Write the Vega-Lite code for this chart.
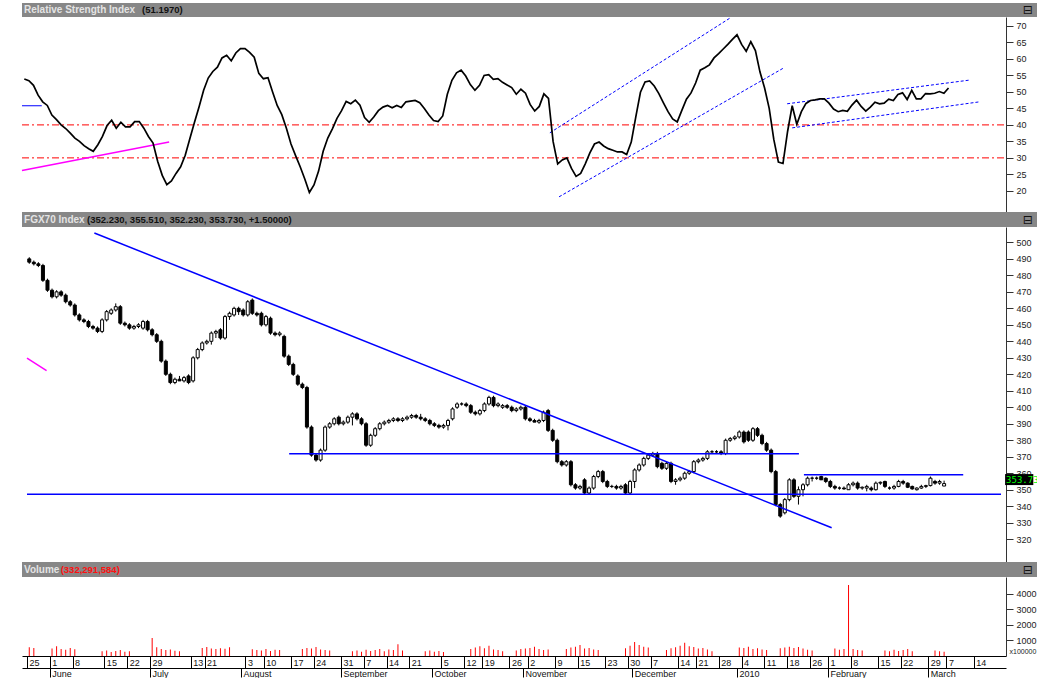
{
"$schema":"https://vega.github.io/schema/vega-lite/v6.json",
"padding":{"left":20,"top":3,"right":0,"bottom":0},
"background":"white",
"spacing":0,
"config":{"view":{"stroke":null},"font":"Liberation Sans","axis":{"grid":false,"title":null}},
"datasets":{
"p":[
{"i":0,"o":490,"h":491,"l":487,"c":488,"v":560,"r":53.9},
{"i":1,"o":488,"h":489,"l":486,"c":487,"v":520,"r":53.4},
{"i":2,"o":487,"h":488,"l":485,"c":486,"v":0,"r":52},
{"i":3,"o":486,"h":487,"l":476,"c":477,"v":0,"r":49},
{"i":4,"o":477,"h":478,"l":470,"c":471,"v":0,"r":47},
{"i":5,"o":471,"h":472,"l":466,"c":467,"v":480,"r":45.9},
{"i":6,"o":467,"h":471,"l":466,"c":470,"v":620,"r":43},
{"i":7,"o":470,"h":471,"l":467,"c":468,"v":450,"r":41.6},
{"i":8,"o":468,"h":469,"l":463,"c":464,"v":400,"r":40},
{"i":9,"o":464,"h":465,"l":461,"c":462,"v":520,"r":38.9},
{"i":10,"o":462,"h":463,"l":455,"c":456,"v":440,"r":37.5},
{"i":11,"o":456,"h":457,"l":452,"c":453,"v":0,"r":36},
{"i":12,"o":453,"h":454,"l":451,"c":452,"v":0,"r":35},
{"i":13,"o":452,"h":453,"l":448,"c":449,"v":0,"r":33.7},
{"i":14,"o":449,"h":450,"l":447,"c":448,"v":0,"r":32.8},
{"i":15,"o":448,"h":449,"l":445,"c":446,"v":0,"r":32},
{"i":16,"o":446,"h":454,"l":445,"c":453,"v":300,"r":34},
{"i":17,"o":453,"h":459,"l":452,"c":458,"v":350,"r":36.5},
{"i":18,"o":457,"h":460,"l":456,"c":459,"v":260,"r":39.8},
{"i":19,"o":459,"h":463,"l":458,"c":461,"v":320,"r":41.4},
{"i":20,"o":461,"h":462,"l":450,"c":451,"v":380,"r":39},
{"i":21,"o":451,"h":452,"l":449,"c":450,"v":280,"r":40.8},
{"i":22,"o":450,"h":451,"l":447,"c":448,"v":300,"r":39.4},
{"i":23,"o":448,"h":450,"l":447,"c":449,"v":0,"r":39.4},
{"i":24,"o":449,"h":451,"l":448,"c":450,"v":0,"r":41},
{"i":25,"o":448,"h":453,"l":447,"c":452,"v":0,"r":41},
{"i":26,"o":452,"h":453,"l":446,"c":447,"v":0,"r":39},
{"i":27,"o":447,"h":448,"l":443,"c":444,"v":1150,"r":36.5},
{"i":28,"o":444,"h":445,"l":439,"c":440,"v":560,"r":34.5},
{"i":29,"o":440,"h":441,"l":427,"c":428,"v":450,"r":29},
{"i":30,"o":428,"h":429,"l":419,"c":420,"v":380,"r":24.7},
{"i":31,"o":420,"h":421,"l":414,"c":415,"v":420,"r":21.9},
{"i":32,"o":415,"h":418,"l":414,"c":417,"v":330,"r":23},
{"i":33,"o":417,"h":419,"l":416,"c":416,"v":300,"r":25.3},
{"i":34,"o":416,"h":419,"l":415,"c":418,"v":0,"r":27.3},
{"i":35,"o":419,"h":420,"l":414,"c":415,"v":0,"r":30.8},
{"i":36,"o":416,"h":431,"l":415,"c":430,"v":0,"r":35.8},
{"i":37,"o":430,"h":436,"l":429,"c":435,"v":0,"r":40.7},
{"i":38,"o":435,"h":440,"l":434,"c":439,"v":520,"r":45.4},
{"i":39,"o":439,"h":441,"l":438,"c":440,"v":580,"r":50.5},
{"i":40,"o":440,"h":446,"l":438,"c":445,"v":480,"r":54.2},
{"i":41,"o":445,"h":447,"l":442,"c":446,"v":450,"r":56.2},
{"i":42,"o":447,"h":448,"l":441,"c":442,"v":500,"r":57.5},
{"i":43,"o":442,"h":456,"l":441,"c":455,"v":460,"r":60.3},
{"i":44,"o":455,"h":458,"l":453,"c":457,"v":560,"r":61.1},
{"i":45,"o":456,"h":461,"l":455,"c":460,"v":0,"r":59.4},
{"i":46,"o":460,"h":461,"l":456,"c":458,"v":0,"r":61.8},
{"i":47,"o":459,"h":460,"l":455,"c":456,"v":0,"r":63.1},
{"i":48,"o":456,"h":465,"l":455,"c":464,"v":0,"r":63.1},
{"i":49,"o":465,"h":466,"l":456,"c":457,"v":430,"r":62},
{"i":50,"o":457,"h":458,"l":455,"c":456,"v":380,"r":60.5},
{"i":51,"o":457,"h":458,"l":449,"c":450,"v":350,"r":55.6},
{"i":52,"o":450,"h":456,"l":449,"c":455,"v":450,"r":54},
{"i":53,"o":454,"h":455,"l":444,"c":445,"v":320,"r":54.3},
{"i":54,"o":445,"h":446,"l":443,"c":444,"v":400,"r":50},
{"i":55,"o":444,"h":446,"l":443,"c":445,"v":380,"r":45.9},
{"i":56,"o":443,"h":444,"l":430,"c":431,"v":0,"r":43.1},
{"i":57,"o":431,"h":432,"l":425,"c":426,"v":0,"r":39},
{"i":58,"o":426,"h":427,"l":419,"c":420,"v":0,"r":34.2},
{"i":59,"o":419,"h":420,"l":413,"c":414,"v":0,"r":30.7},
{"i":60,"o":414,"h":415,"l":411,"c":412,"v":450,"r":27.3},
{"i":61,"o":412,"h":413,"l":387,"c":388,"v":520,"r":23.6},
{"i":62,"o":388,"h":389,"l":370,"c":371,"v":480,"r":19.5},
{"i":63,"o":371,"h":372,"l":367,"c":368,"v":580,"r":21.8},
{"i":64,"o":368,"h":375,"l":367,"c":374,"v":420,"r":26},
{"i":65,"o":374,"h":389,"l":373,"c":388,"v":380,"r":32},
{"i":66,"o":388,"h":391,"l":387,"c":390,"v":350,"r":36},
{"i":67,"o":390,"h":394,"l":389,"c":393,"v":0,"r":38.8},
{"i":68,"o":394,"h":395,"l":389,"c":390,"v":0,"r":42},
{"i":69,"o":390,"h":392,"l":389,"c":391,"v":0,"r":44.3},
{"i":70,"o":391,"h":395,"l":390,"c":394,"v":0,"r":47.1},
{"i":71,"o":394,"h":397,"l":389,"c":396,"v":300,"r":46.4},
{"i":72,"o":396,"h":397,"l":392,"c":393,"v":350,"r":47.5},
{"i":73,"o":393,"h":394,"l":389,"c":390,"v":280,"r":46},
{"i":74,"o":390,"h":391,"l":376,"c":377,"v":400,"r":42.2},
{"i":75,"o":377,"h":384,"l":376,"c":383,"v":320,"r":40.8},
{"i":76,"o":383,"h":388,"l":382,"c":387,"v":380,"r":42.4},
{"i":77,"o":387,"h":391,"l":386,"c":390,"v":450,"r":44.3},
{"i":78,"o":390,"h":392,"l":389,"c":391,"v":300,"r":45.4},
{"i":79,"o":391,"h":393,"l":390,"c":392,"v":420,"r":45.9},
{"i":80,"o":392,"h":394,"l":391,"c":393,"v":380,"r":45.2},
{"i":81,"o":393,"h":394,"l":391,"c":392,"v":750,"r":45.9},
{"i":82,"o":392,"h":394,"l":391,"c":393,"v":350,"r":45.3},
{"i":83,"o":393,"h":395,"l":392,"c":394,"v":0,"r":47},
{"i":84,"o":394,"h":396,"l":393,"c":395,"v":0,"r":47.2},
{"i":85,"o":395,"h":396,"l":393,"c":394,"v":0,"r":47.4},
{"i":86,"o":394,"h":396,"l":392,"c":393,"v":0,"r":46.7},
{"i":87,"o":393,"h":394,"l":391,"c":392,"v":300,"r":45},
{"i":88,"o":392,"h":393,"l":389,"c":390,"v":350,"r":43},
{"i":89,"o":390,"h":391,"l":388,"c":389,"v":280,"r":41.3},
{"i":90,"o":389,"h":390,"l":387,"c":388,"v":320,"r":41},
{"i":91,"o":388,"h":390,"l":387,"c":389,"v":250,"r":42.7},
{"i":92,"o":389,"h":393,"l":386,"c":392,"v":0,"r":49.3},
{"i":93,"o":393,"h":400,"l":392,"c":399,"v":0,"r":53.5},
{"i":94,"o":400,"h":403,"l":399,"c":402,"v":0,"r":55.8},
{"i":95,"o":402,"h":403,"l":401,"c":402,"v":0,"r":56.6},
{"i":96,"o":402,"h":403,"l":400,"c":401,"v":0,"r":54.8},
{"i":97,"o":401,"h":402,"l":396,"c":397,"v":450,"r":52.2},
{"i":98,"o":397,"h":398,"l":395,"c":396,"v":550,"r":50.5},
{"i":99,"o":396,"h":399,"l":395,"c":398,"v":620,"r":52},
{"i":100,"o":398,"h":403,"l":397,"c":402,"v":500,"r":55},
{"i":101,"o":402,"h":407,"l":401,"c":406,"v":650,"r":55.2},
{"i":102,"o":406,"h":407,"l":400,"c":401,"v":420,"r":53.8},
{"i":103,"o":401,"h":403,"l":400,"c":402,"v":380,"r":54},
{"i":104,"o":400,"h":402,"l":399,"c":401,"v":300,"r":52.9},
{"i":105,"o":401,"h":402,"l":399,"c":400,"v":0,"r":52.1},
{"i":106,"o":400,"h":401,"l":397,"c":398,"v":0,"r":51.3},
{"i":107,"o":398,"h":400,"l":397,"c":399,"v":350,"r":49.3},
{"i":108,"o":399,"h":401,"l":398,"c":400,"v":450,"r":50.8},
{"i":109,"o":400,"h":401,"l":392,"c":393,"v":480,"r":49.6},
{"i":110,"o":393,"h":394,"l":391,"c":392,"v":520,"r":46.2},
{"i":111,"o":392,"h":393,"l":391,"c":391,"v":600,"r":44.2},
{"i":112,"o":391,"h":393,"l":390,"c":392,"v":450,"r":45.6},
{"i":113,"o":392,"h":398,"l":391,"c":397,"v":380,"r":49.4},
{"i":114,"o":398,"h":399,"l":385,"c":386,"v":420,"r":48},
{"i":115,"o":386,"h":387,"l":379,"c":380,"v":0,"r":35},
{"i":116,"o":380,"h":381,"l":366,"c":367,"v":0,"r":28.2},
{"i":117,"o":367,"h":368,"l":364,"c":365,"v":0,"r":29.4},
{"i":118,"o":365,"h":368,"l":364,"c":367,"v":450,"r":30},
{"i":119,"o":367,"h":368,"l":352,"c":353,"v":550,"r":26.8},
{"i":120,"o":353,"h":354,"l":350,"c":351,"v":600,"r":24.4},
{"i":121,"o":351,"h":353,"l":350,"c":352,"v":700,"r":25.3},
{"i":122,"o":356,"h":357,"l":347,"c":348,"v":480,"r":28.2},
{"i":123,"o":348,"h":352,"l":347,"c":351,"v":520,"r":31.5},
{"i":124,"o":351,"h":359,"l":350,"c":358,"v":420,"r":34.2},
{"i":125,"o":358,"h":362,"l":357,"c":361,"v":380,"r":34.8},
{"i":126,"o":361,"h":362,"l":354,"c":355,"v":0,"r":33.6},
{"i":127,"o":355,"h":356,"l":351,"c":352,"v":0,"r":32.8},
{"i":128,"o":352,"h":353,"l":351,"c":352,"v":0,"r":32.3},
{"i":129,"o":352,"h":353,"l":350,"c":351,"v":0,"r":31.8},
{"i":130,"o":351,"h":353,"l":350,"c":352,"v":0,"r":31.8},
{"i":131,"o":353,"h":354,"l":347,"c":348,"v":500,"r":31},
{"i":132,"o":348,"h":356,"l":347,"c":355,"v":650,"r":34.8},
{"i":133,"o":355,"h":363,"l":351,"c":362,"v":900,"r":42.5},
{"i":134,"o":362,"h":366,"l":361,"c":365,"v":700,"r":49.9},
{"i":135,"o":365,"h":370,"l":364,"c":369,"v":600,"r":53},
{"i":136,"o":369,"h":372,"l":368,"c":371,"v":550,"r":53.3},
{"i":137,"o":371,"h":373,"l":370,"c":372,"v":0,"r":51.8},
{"i":138,"o":372,"h":373,"l":363,"c":364,"v":0,"r":49.5},
{"i":139,"o":366,"h":367,"l":362,"c":363,"v":0,"r":46.7},
{"i":140,"o":363,"h":367,"l":362,"c":366,"v":380,"r":44},
{"i":141,"o":366,"h":367,"l":354,"c":355,"v":500,"r":41.8},
{"i":142,"o":355,"h":357,"l":353,"c":356,"v":560,"r":40.9},
{"i":143,"o":356,"h":358,"l":355,"c":357,"v":650,"r":44.4},
{"i":144,"o":357,"h":361,"l":356,"c":360,"v":850,"r":47.8},
{"i":145,"o":360,"h":362,"l":359,"c":361,"v":620,"r":49.7},
{"i":146,"o":361,"h":368,"l":360,"c":367,"v":580,"r":52.7},
{"i":147,"o":367,"h":369,"l":366,"c":368,"v":480,"r":56.6},
{"i":148,"o":368,"h":370,"l":367,"c":369,"v":520,"r":57.3},
{"i":149,"o":369,"h":374,"l":368,"c":373,"v":420,"r":58.2},
{"i":150,"o":373,"h":374,"l":372,"c":373,"v":300,"r":60.3},
{"i":151,"o":373,"h":374,"l":372,"c":373,"v":0,"r":61.6},
{"i":152,"o":373,"h":374,"l":371,"c":372,"v":0,"r":63},
{"i":153,"o":372,"h":381,"l":371,"c":380,"v":0,"r":64.4},
{"i":154,"o":380,"h":382,"l":379,"c":381,"v":0,"r":65.9},
{"i":155,"o":381,"h":383,"l":380,"c":382,"v":0,"r":67.3},
{"i":156,"o":382,"h":386,"l":381,"c":385,"v":550,"r":64.4},
{"i":157,"o":385,"h":386,"l":378,"c":379,"v":520,"r":62.3},
{"i":158,"o":385,"h":386,"l":379,"c":380,"v":600,"r":65.2},
{"i":159,"o":380,"h":388,"l":379,"c":387,"v":450,"r":62.5},
{"i":160,"o":387,"h":388,"l":382,"c":383,"v":500,"r":56},
{"i":161,"o":383,"h":384,"l":377,"c":378,"v":420,"r":51.2},
{"i":162,"o":378,"h":379,"l":373,"c":374,"v":380,"r":45},
{"i":163,"o":374,"h":375,"l":360,"c":361,"v":0,"r":35.6},
{"i":164,"o":361,"h":362,"l":340,"c":341,"v":0,"r":28.7},
{"i":165,"o":341,"h":342,"l":333,"c":334,"v":500,"r":28.3},
{"i":166,"o":336,"h":345,"l":335,"c":344,"v":550,"r":38},
{"i":167,"o":344,"h":357,"l":343,"c":356,"v":600,"r":45.8},
{"i":168,"o":356,"h":357,"l":345,"c":346,"v":520,"r":40.2},
{"i":169,"o":346,"h":352,"l":341,"c":350,"v":580,"r":44},
{"i":170,"o":350,"h":354,"l":346,"c":353,"v":480,"r":46.5},
{"i":171,"o":353,"h":358,"l":352,"c":357,"v":400,"r":47.4},
{"i":172,"o":357,"h":358,"l":355,"c":357,"v":350,"r":47.6},
{"i":173,"o":357,"h":358,"l":356,"c":357,"v":0,"r":47.9},
{"i":174,"o":358,"h":358.5,"l":356,"c":356,"v":0,"r":47.9},
{"i":175,"o":357,"h":357.5,"l":354,"c":355,"v":0,"r":46.6},
{"i":176,"o":355,"h":356,"l":351,"c":352,"v":0,"r":44.8},
{"i":177,"o":352,"h":353,"l":350,"c":351,"v":480,"r":44},
{"i":178,"o":351,"h":352,"l":350,"c":351,"v":400,"r":44.4},
{"i":179,"o":351,"h":352,"l":350,"c":350.5,"v":450,"r":44.1},
{"i":180,"o":350,"h":354,"l":350,"c":353,"v":4550,"r":46},
{"i":181,"o":353,"h":355,"l":352,"c":354,"v":450,"r":47.5},
{"i":182,"o":354,"h":355,"l":350,"c":351,"v":380,"r":45.6},
{"i":183,"o":351,"h":352,"l":350,"c":351.5,"v":350,"r":44.2},
{"i":184,"o":351,"h":353,"l":349,"c":352,"v":0,"r":45.4},
{"i":185,"o":351,"h":352,"l":349,"c":350,"v":0,"r":46.9},
{"i":186,"o":350,"h":355,"l":349.5,"c":354,"v":0,"r":46.4},
{"i":187,"o":354,"h":355,"l":353,"c":354.5,"v":0,"r":46.6},
{"i":188,"o":355,"h":355.5,"l":351,"c":352,"v":350,"r":47.8},
{"i":189,"o":351,"h":352,"l":350,"c":351,"v":300,"r":47.4},
{"i":190,"o":351,"h":353,"l":350,"c":352,"v":400,"r":49.2},
{"i":191,"o":352,"h":356,"l":351.5,"c":355,"v":320,"r":49.7},
{"i":192,"o":355,"h":356,"l":353,"c":354,"v":380,"r":47.7},
{"i":193,"o":354,"h":354.5,"l":351,"c":351.5,"v":450,"r":50.5},
{"i":194,"o":352,"h":352.5,"l":350,"c":350.5,"v":300,"r":47.9},
{"i":195,"o":350,"h":351.5,"l":349.5,"c":351,"v":0,"r":47.9},
{"i":196,"o":351,"h":353,"l":350.5,"c":352,"v":0,"r":49.5},
{"i":197,"o":352,"h":353,"l":351,"c":352.5,"v":0,"r":49.4},
{"i":198,"o":352.5,"h":358,"l":352,"c":357,"v":0,"r":49.6},
{"i":199,"o":355,"h":356,"l":353,"c":354,"v":350,"r":50.1},
{"i":200,"o":354,"h":356,"l":353,"c":355,"v":300,"r":49.6},
{"i":201,"o":352.23,"h":355.51,"l":352.23,"c":353.73,"v":280,"r":51.2}
],
"rsiRed":[{"i":-0.5,"i2":213.5,"r":40,"r2":40},{"i":-0.5,"i2":213.5,"r":30,"r2":30}],
"rsiMag":[{"i":-0.5,"i2":31.5,"r":26.2,"r2":34.8}],
"rsiBlue":[{"i":-0.5,"i2":3.8,"r":45.8,"r2":45.8}],
"rsiDash":[{"i":114.3,"i2":153.5,"r":37.6,"r2":72.4},{"i":116.3,"i2":165.2,"r":18.2,"r2":57.3},{"i":165.9,"i2":205.7,"r":46.4,"r2":53.6},{"i":167,"i2":207.8,"r":39.1,"r2":47}],
"pBlue":[{"i":14.3,"i2":176.3,"c":505.7,"c2":326.9},{"i":57.1,"i2":169.1,"c":371.8,"c2":371.8},{"i":-0.5,"i2":213.5,"c":347.2,"c2":347.2},{"i":170.2,"i2":205.2,"c":359.1,"c2":359.1}],
"pMag":[{"i":-0.5,"i2":3.8,"c":429.8,"c2":422.2}],
"cur":[{"i":214.4,"i2":220.6,"c":353.73}],
"hdr":[{"a":0,"b":1}]
},
"vconcat":[
{"width":1017,"height":14,"data":{"name":"hdr"},
 "layer":[
  {"mark":{"type":"rect","color":"#878787"},"encoding":{"x":{"field":"a","type":"quantitative","scale":{"domain":[0,1],"nice":false,"zero":false},"axis":null},"x2":{"field":"b"},"y":{"field":"a","type":"quantitative","scale":{"domain":[0,1],"nice":false,"zero":false},"axis":null},"y2":{"field":"b"}}},
  {"mark":{"type":"text","align":"left","baseline":"middle","fontSize":10,"fontWeight":"bold","color":"#e4e4e4"},"encoding":{"x":{"datum":0.002,"type":"quantitative"},"y":{"datum":0.5,"type":"quantitative"},"text":{"value":"Relative Strength Index"}}},
  {"mark":{"type":"text","align":"left","baseline":"middle","fontSize":9.5,"fontWeight":"bold","color":"#111111"},"encoding":{"x":{"datum":0.118,"type":"quantitative"},"y":{"datum":0.5,"type":"quantitative"},"text":{"value":"(51.1970)"}}},
  {"mark":{"type":"text","align":"center","baseline":"middle","fontSize":12,"font":"DejaVu Sans","color":"#111111"},"encoding":{"x":{"datum":0.989,"type":"quantitative"},"y":{"datum":0.5,"type":"quantitative"},"text":{"value":"⊟"}}}
 ]},
{"width":984,"height":195,
 "layer":[
  {"data":{"name":"rsiRed"},"mark":{"type":"rule","color":"#ff0000","strokeDash":[7,3,2,3],"strokeWidth":1},
   "encoding":{"x":{"field":"i","type":"quantitative","scale":{"domain":[-0.5,213.5],"nice":false,"zero":false},"axis":null},"x2":{"field":"i2"},
    "y":{"field":"r","type":"quantitative","scale":{"domain":[13.6,72.7],"nice":false,"zero":false},"axis":{"orient":"right","values":[20,25,30,35,40,45,50,55,60,65,70],"tickSize":7,"tickColor":"#333","domainColor":"#333","labelColor":"#222","labelFontSize":9,"labelPadding":3,"title":null,"grid":false}},"y2":{"field":"r2"}}},
  {"data":{"name":"rsiMag"},"mark":{"type":"rule","color":"#ff00ff","strokeWidth":1.5},
   "encoding":{"x":{"field":"i","type":"quantitative","scale":{"domain":[-0.5,213.5],"nice":false,"zero":false},"axis":null},"x2":{"field":"i2"},
    "y":{"field":"r","type":"quantitative","scale":{"domain":[13.6,72.7],"nice":false,"zero":false},"axis":{"orient":"right","values":[20,25,30,35,40,45,50,55,60,65,70],"tickSize":7,"tickColor":"#333","domainColor":"#333","labelColor":"#222","labelFontSize":9,"labelPadding":3,"title":null,"grid":false}},"y2":{"field":"r2"}}},
  {"data":{"name":"rsiBlue"},"mark":{"type":"rule","color":"#0000ff","strokeWidth":1},
   "encoding":{"x":{"field":"i","type":"quantitative","scale":{"domain":[-0.5,213.5],"nice":false,"zero":false},"axis":null},"x2":{"field":"i2"},
    "y":{"field":"r","type":"quantitative","scale":{"domain":[13.6,72.7],"nice":false,"zero":false},"axis":{"orient":"right","values":[20,25,30,35,40,45,50,55,60,65,70],"tickSize":7,"tickColor":"#333","domainColor":"#333","labelColor":"#222","labelFontSize":9,"labelPadding":3,"title":null,"grid":false}},"y2":{"field":"r2"}}},
  {"data":{"name":"rsiDash"},"mark":{"type":"rule","color":"#0000ff","strokeDash":[3,2],"strokeWidth":1},
   "encoding":{"x":{"field":"i","type":"quantitative","scale":{"domain":[-0.5,213.5],"nice":false,"zero":false},"axis":null},"x2":{"field":"i2"},
    "y":{"field":"r","type":"quantitative","scale":{"domain":[13.6,72.7],"nice":false,"zero":false},"axis":{"orient":"right","values":[20,25,30,35,40,45,50,55,60,65,70],"tickSize":7,"tickColor":"#333","domainColor":"#333","labelColor":"#222","labelFontSize":9,"labelPadding":3,"title":null,"grid":false}},"y2":{"field":"r2"}}},
  {"data":{"name":"p"},"mark":{"type":"line","color":"#000000","strokeWidth":1.7},
   "encoding":{"x":{"field":"i","type":"quantitative","scale":{"domain":[-0.5,213.5],"nice":false,"zero":false},"axis":null},
    "y":{"field":"r","type":"quantitative","scale":{"domain":[13.6,72.7],"nice":false,"zero":false},"axis":{"orient":"right","values":[20,25,30,35,40,45,50,55,60,65,70],"tickSize":7,"tickColor":"#333","domainColor":"#333","labelColor":"#222","labelFontSize":9,"labelPadding":3,"title":null,"grid":false}}}}
 ]},
{"width":1017,"height":15,"data":{"name":"hdr"},
 "layer":[
  {"mark":{"type":"rect","color":"#878787"},"encoding":{"x":{"field":"a","type":"quantitative","scale":{"domain":[0,1],"nice":false,"zero":false},"axis":null},"x2":{"field":"b"},"y":{"field":"a","type":"quantitative","scale":{"domain":[0,1],"nice":false,"zero":false},"axis":null},"y2":{"field":"b"}}},
  {"mark":{"type":"text","align":"left","baseline":"middle","fontSize":10,"fontWeight":"bold","color":"#e4e4e4"},"encoding":{"x":{"datum":0.002,"type":"quantitative"},"y":{"datum":0.5,"type":"quantitative"},"text":{"value":"FGX70 Index"}}},
  {"mark":{"type":"text","align":"left","baseline":"middle","fontSize":9.5,"fontWeight":"bold","color":"#111111"},"encoding":{"x":{"datum":0.064,"type":"quantitative"},"y":{"datum":0.5,"type":"quantitative"},"text":{"value":"(352.230, 355.510, 352.230, 353.730, +1.50000)"}}},
  {"mark":{"type":"text","align":"center","baseline":"middle","fontSize":12,"font":"DejaVu Sans","color":"#111111"},"encoding":{"x":{"datum":0.989,"type":"quantitative"},"y":{"datum":0.5,"type":"quantitative"},"text":{"value":"⊟"}}}
 ]},
{"width":984,"height":335,
 "layer":[
  {"data":{"name":"pMag"},"mark":{"type":"rule","color":"#ff00ff","strokeWidth":1.5},
   "encoding":{"x":{"field":"i","type":"quantitative","scale":{"domain":[-0.5,213.5],"nice":false,"zero":false},"axis":null},"x2":{"field":"i2"},
    "y":{"field":"c","type":"quantitative","scale":{"domain":[309.2,506.3],"nice":false,"zero":false},"axis":{"orient":"right","values":[320,330,340,350,360,370,380,390,400,410,420,430,440,450,460,470,480,490,500],"tickSize":7,"tickColor":"#333","domainColor":"#333","labelColor":"#222","labelFontSize":9,"labelPadding":3,"title":null,"grid":false}},"y2":{"field":"c2"}}},
  {"data":{"name":"p"},"mark":{"type":"rule","color":"#000000","strokeWidth":1},
   "encoding":{"x":{"field":"i","type":"quantitative","scale":{"domain":[-0.5,213.5],"nice":false,"zero":false},"axis":null},
    "y":{"field":"l","type":"quantitative","scale":{"domain":[309.2,506.3],"nice":false,"zero":false},"axis":{"orient":"right","values":[320,330,340,350,360,370,380,390,400,410,420,430,440,450,460,470,480,490,500],"tickSize":7,"tickColor":"#333","domainColor":"#333","labelColor":"#222","labelFontSize":9,"labelPadding":3,"title":null,"grid":false}},"y2":{"field":"h"}}},
  {"data":{"name":"p"},"mark":{"type":"bar","width":3,"stroke":"#000000","strokeWidth":1},
   "encoding":{"x":{"field":"i","type":"quantitative","scale":{"domain":[-0.5,213.5],"nice":false,"zero":false},"axis":null},
    "y":{"field":"o","type":"quantitative","scale":{"domain":[309.2,506.3],"nice":false,"zero":false},"axis":{"orient":"right","values":[320,330,340,350,360,370,380,390,400,410,420,430,440,450,460,470,480,490,500],"tickSize":7,"tickColor":"#333","domainColor":"#333","labelColor":"#222","labelFontSize":9,"labelPadding":3,"title":null,"grid":false}},"y2":{"field":"c"},
    "fill":{"condition":{"test":"datum.c < datum.o","value":"#000000"},"value":"#ffffff"}}},
  {"data":{"name":"pBlue"},"mark":{"type":"rule","color":"#0000ff","strokeWidth":1.5},
   "encoding":{"x":{"field":"i","type":"quantitative","scale":{"domain":[-0.5,213.5],"nice":false,"zero":false},"axis":null},"x2":{"field":"i2"},
    "y":{"field":"c","type":"quantitative","scale":{"domain":[309.2,506.3],"nice":false,"zero":false},"axis":{"orient":"right","values":[320,330,340,350,360,370,380,390,400,410,420,430,440,450,460,470,480,490,500],"tickSize":7,"tickColor":"#333","domainColor":"#333","labelColor":"#222","labelFontSize":9,"labelPadding":3,"title":null,"grid":false}},"y2":{"field":"c2"}}},
  {"data":{"name":"cur"},"mark":{"type":"bar","height":11,"color":"#000000","orient":"horizontal","yOffset":-4},
   "encoding":{"x":{"field":"i","type":"quantitative","scale":{"domain":[-0.5,213.5],"nice":false,"zero":false},"axis":null},"x2":{"field":"i2"},
    "y":{"field":"c","type":"quantitative","scale":{"domain":[309.2,506.3],"nice":false,"zero":false},"axis":{"orient":"right","values":[320,330,340,350,360,370,380,390,400,410,420,430,440,450,460,470,480,490,500],"tickSize":7,"tickColor":"#333","domainColor":"#333","labelColor":"#222","labelFontSize":9,"labelPadding":3,"title":null,"grid":false}}}},
  {"data":{"name":"cur"},"mark":{"type":"text","color":"#00ff00","align":"left","baseline":"middle","dx":1,"dy":-4,"fontSize":9,"font":"DejaVu Sans Mono"},
   "encoding":{"x":{"field":"i","type":"quantitative","scale":{"domain":[-0.5,213.5],"nice":false,"zero":false},"axis":null},
    "y":{"field":"c","type":"quantitative","scale":{"domain":[309.2,506.3],"nice":false,"zero":false},"axis":{"orient":"right","values":[320,330,340,350,360,370,380,390,400,410,420,430,440,450,460,470,480,490,500],"tickSize":7,"tickColor":"#333","domainColor":"#333","labelColor":"#222","labelFontSize":9,"labelPadding":3,"title":null,"grid":false}},
    "text":{"field":"c","type":"quantitative","format":".2f"}}}
 ]},
{"width":1017,"height":15,"data":{"name":"hdr"},
 "layer":[
  {"mark":{"type":"rect","color":"#878787"},"encoding":{"x":{"field":"a","type":"quantitative","scale":{"domain":[0,1],"nice":false,"zero":false},"axis":null},"x2":{"field":"b"},"y":{"field":"a","type":"quantitative","scale":{"domain":[0,1],"nice":false,"zero":false},"axis":null},"y2":{"field":"b"}}},
  {"mark":{"type":"text","align":"left","baseline":"middle","fontSize":10,"fontWeight":"bold","color":"#e4e4e4"},"encoding":{"x":{"datum":0.002,"type":"quantitative"},"y":{"datum":0.5,"type":"quantitative"},"text":{"value":"Volume"}}},
  {"mark":{"type":"text","align":"left","baseline":"middle","fontSize":9.5,"fontWeight":"bold","color":"#ff1010"},"encoding":{"x":{"datum":0.038,"type":"quantitative"},"y":{"datum":0.5,"type":"quantitative"},"text":{"value":"(332,291,584)"}}},
  {"mark":{"type":"text","align":"center","baseline":"middle","fontSize":12,"font":"DejaVu Sans","color":"#111111"},"encoding":{"x":{"datum":0.989,"type":"quantitative"},"y":{"datum":0.5,"type":"quantitative"},"text":{"value":"⊟"}}}
 ]},
{"width":984,"height":79,
 "resolve":{"axis":{"x":"independent"}},
 "layer":[
  {"data":{"name":"p"},"mark":{"type":"bar","width":1,"color":"#ff0000"},
   "encoding":{"x":{"field":"i","type":"quantitative","scale":{"domain":[-0.5,213.5],"nice":false,"zero":false},
     "axis":{"orient":"bottom","values":[-0.5,4.5,9.5,16.5,21.5,26.5,35.5,38.5,47.5,51.5,57.5,62.5,68.5,73.5,78.5,83.5,90.5,95.5,99.5,105.5,109.5,115.5,120.5,126.5,131.5,136.5,142.5,146.5,151.5,156.5,161.5,166.5,171.5,175.5,180.5,186.5,191.5,197.5,201.5,207.5],
     "labelExpr":"['25','1','8','15','22','29','13','21','3','10','17','24','31','7','14','21','5','12','19','26','2','9','15','23','30','7','14','21','28','4','11','18','26','1','8','15','22','29','7','14'][indexof([-0.5,4.5,9.5,16.5,21.5,26.5,35.5,38.5,47.5,51.5,57.5,62.5,68.5,73.5,78.5,83.5,90.5,95.5,99.5,105.5,109.5,115.5,120.5,126.5,131.5,136.5,142.5,146.5,151.5,156.5,161.5,166.5,171.5,175.5,180.5,186.5,191.5,197.5,201.5,207.5], datum.value)]",
     "tickSize":12,"tickColor":"#000","domainColor":"#000","labelColor":"#111","labelFontSize":9,"labelAlign":"left","labelBaseline":"top","labelPadding":-10,"labelOffset":2,"labelOverlap":false,"labelFlush":false,"labelBound":false,"title":null,"grid":false}},
    "y":{"field":"v","type":"quantitative","scale":{"domain":[0,5064],"nice":false,"zero":false},"axis":{"orient":"right","values":[1000,2000,3000,4000],"format":"d","tickSize":7,"tickColor":"#333","domainColor":"#333","labelColor":"#222","labelFontSize":9,"labelPadding":3,"title":"x100000","titleAngle":0,"titleX":3,"titleY":74,"titleFontSize":7,"titleFontWeight":"normal","titleAlign":"left","titleBaseline":"middle","titleColor":"#222","grid":false}}}},
  {"data":{"name":"p"},"mark":{"type":"bar","width":1,"color":"#ff0000","opacity":0},
   "encoding":{"x":{"field":"i","type":"quantitative","scale":{"domain":[-0.5,213.5],"nice":false,"zero":false},
     "axis":{"orient":"bottom","offset":12,"values":[4.5,26.5,46.5,68.5,88.5,108.5,132.5,155.5,175.5,197.5],
     "labelExpr":"['June','July','August','September','October','November','December','2010','February','March'][indexof([4.5,26.5,46.5,68.5,88.5,108.5,132.5,155.5,175.5,197.5], datum.value)]",
     "tickSize":9,"tickColor":"#000","domainColor":"#000","labelColor":"#111","labelFontSize":9,"labelAlign":"left","labelBaseline":"top","labelPadding":-8,"labelOffset":2,"labelOverlap":false,"labelFlush":false,"labelBound":false,"title":null,"grid":false}},
    "y":{"field":"v","type":"quantitative","scale":{"domain":[0,5064],"nice":false,"zero":false},"axis":{"orient":"right","values":[1000,2000,3000,4000],"format":"d","tickSize":7,"tickColor":"#333","domainColor":"#333","labelColor":"#222","labelFontSize":9,"labelPadding":3,"title":"x100000","titleAngle":0,"titleX":3,"titleY":74,"titleFontSize":7,"titleFontWeight":"normal","titleAlign":"left","titleBaseline":"middle","titleColor":"#222","grid":false}}}}
 ]}
]
}
